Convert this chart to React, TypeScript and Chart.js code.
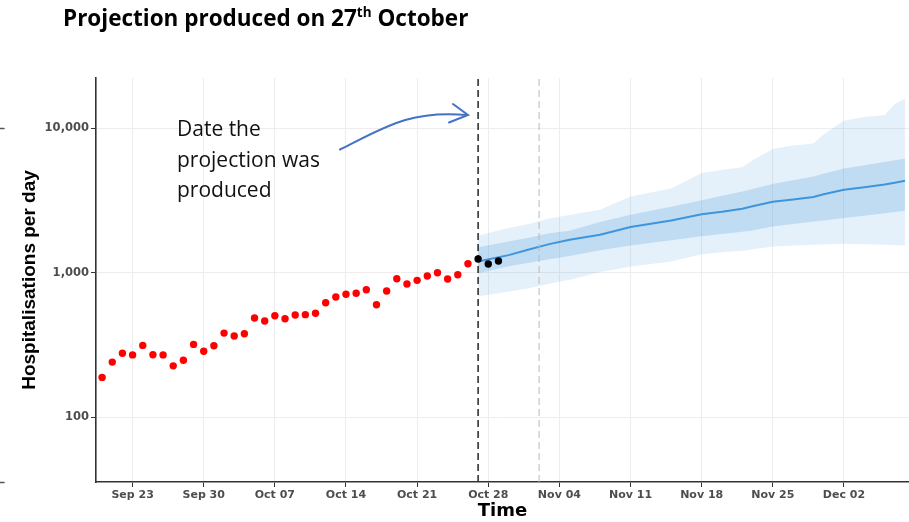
import React, { useEffect, useRef } from 'react';
import { Chart, registerables } from 'chart.js';

Chart.register(...registerables);

// ---------- data ----------
const BASE_DATE = '2020-09-23'; // day 0 of the x axis
const FIRST_OBSERVED_DATE = '2020-09-20';
const observedHosp = [
  188, 240, 276, 269, 313, 270, 269, 226, 247, 318, 285, 311, 381, 364, 377, 484, 462, 502, 479,
  508, 511, 522, 618, 677, 707, 718, 760, 599, 745, 906, 832, 883, 946, 997, 902, 966, 1151,
];
const FIRST_LATEST_DATE = '2020-10-27';
const latestHosp = [1240, 1145, 1202];

const projectionDates = [
  '2020-10-27', '2020-10-30', '2020-11-01', '2020-11-03', '2020-11-05', '2020-11-08', '2020-11-11',
  '2020-11-15', '2020-11-18', '2020-11-20', '2020-11-22', '2020-11-23', '2020-11-25', '2020-11-27',
  '2020-11-29', '2020-11-30', '2020-12-02', '2020-12-04', '2020-12-06', '2020-12-07', '2020-12-08',
];
const projMedian = [
  1192, 1320, 1443, 1573, 1685, 1824, 2066, 2292, 2530, 2633, 2762, 2873, 3088, 3198, 3334, 3480,
  3738, 3891, 4061, 4180, 4315,
];
const projInnerHigh = [
  1499, 1637, 1740, 1868, 1945, 2234, 2510, 2851, 3168, 3398, 3644, 3781, 4096, 4350, 4622, 4826,
  5251, 5525, 5825, 5975, 6130,
];
const projInnerLow = [
  990, 1107, 1167, 1236, 1301, 1425, 1541, 1671, 1781, 1845, 1914, 1957, 2083, 2167, 2255, 2295,
  2381, 2470, 2575, 2624, 2675,
];
const projOuterHigh = [
  1796, 2033, 2164, 2362, 2506, 2718, 3365, 3817, 4880, 5127, 5361, 5984, 7154, 7578, 7810, 9016,
  11234, 11917, 12262, 14665, 15956,
];
const projOuterLow = [
  682, 739, 777, 835, 893, 1008, 1102, 1194, 1337, 1380, 1413, 1447, 1513, 1536, 1555, 1563, 1580,
  1568, 1555, 1548, 1538,
];

const PRODUCED_DATE = '2020-10-27';
const SECOND_LINE_DATE = '2020-11-02';
const xTickDates = [
  '2020-09-23', '2020-09-30', '2020-10-07', '2020-10-14', '2020-10-21', '2020-10-28',
  '2020-11-04', '2020-11-11', '2020-11-18', '2020-11-25', '2020-12-02',
];
const yTickValues = [100, 1000, 10000];
const X_RANGE = [-3.6, 76.4]; // days from BASE_DATE
const Y_RANGE = [35.5, 22200];

const MONTHS = ['Jan', 'Feb', 'Mar', 'Apr', 'May', 'Jun', 'Jul', 'Aug', 'Sep', 'Oct', 'Nov', 'Dec'];
const DAY_MS = 86400000;
const baseMs = Date.parse(BASE_DATE + 'T00:00:00Z');
const dayOf = (iso: string) => Math.round((Date.parse(iso + 'T00:00:00Z') - baseMs) / DAY_MS);
const fmtDay = (d: number) => {
  const dt = new Date(baseMs + Math.round(d) * DAY_MS);
  return `${MONTHS[dt.getUTCMonth()]} ${String(dt.getUTCDate()).padStart(2, '0')}`;
};

const textPlugin = {
  id: 'textOverlay',
  afterDraw(chart: any) {
    const ctx = chart.ctx as CanvasRenderingContext2D;
    ctx.save();
    ctx.fillStyle = '#000';
    ctx.textBaseline = 'alphabetic';
    ctx.textAlign = 'left';
    // title
    let x = 63;
    const by = 26;
    ctx.font = 'bold 22.5px "Open Sans"';
    const t1 = 'Projection produced on 27';
    ctx.fillText(t1, x, by);
    x += ctx.measureText(t1).width;
    ctx.font = 'bold 13.5px "Open Sans"';
    ctx.fillText('th', x, by - 9);
    x += ctx.measureText('th').width;
    ctx.font = 'bold 22.5px "Open Sans"';
    ctx.fillText(' October', x, by);

    // annotation text
    ctx.font = '21px "Open Sans"';
    ctx.fillStyle = '#111';
    ['Date the', 'projection was', 'produced'].forEach((s, i) => {
      ctx.fillText(s, 177, 136 + i * 30.5);
    });

    // arrow
    ctx.strokeStyle = '#4472c4';
    ctx.lineWidth = 2;
    ctx.lineCap = 'round';
    ctx.beginPath();
    ctx.moveTo(340, 149.5);
    ctx.bezierCurveTo(385, 127, 410, 110, 467, 115);
    ctx.stroke();
    ctx.beginPath();
    ctx.moveTo(453, 104);
    ctx.lineTo(468, 115);
    ctx.lineTo(449, 122.5);
    ctx.stroke();

    // small slide artefacts at the left edge
    ctx.strokeStyle = '#555';
    ctx.lineWidth = 1.5;
    ctx.beginPath();
    ctx.moveTo(0, 128.5);
    ctx.lineTo(4, 128.5);
    ctx.moveTo(0, 482.5);
    ctx.lineTo(4, 482.5);
    ctx.stroke();
    ctx.restore();
  },
};

export default function App() {
  const ref = useRef<HTMLCanvasElement | null>(null);

  useEffect(() => {
    if (!ref.current) return;
    const obsStart = dayOf(FIRST_OBSERVED_DATE);
    const latestStart = dayOf(FIRST_LATEST_DATE);
    const projDays = projectionDates.map(dayOf);
    const series = (vals: number[]) => vals.map((v, i) => ({ x: projDays[i], y: v }));
    const vline = (iso: string) => [
      { x: dayOf(iso), y: Y_RANGE[0] },
      { x: dayOf(iso), y: Y_RANGE[1] },
    ];
    const band = { pointRadius: 0, borderWidth: 0, borderColor: 'transparent', showLine: true };

    const chart = new Chart(ref.current, {
      type: 'line',
      data: {
        datasets: [
          {
            data: latestHosp.map((v, i) => ({ x: latestStart + i, y: v })),
            showLine: false,
            pointRadius: 3.7,
            pointBackgroundColor: '#000',
            pointBorderWidth: 0,
          },
          {
            data: observedHosp.map((v, i) => ({ x: obsStart + i, y: v })),
            showLine: false,
            pointRadius: 3.7,
            pointBackgroundColor: '#ff0000',
            pointBorderWidth: 0,
          },
          {
            data: vline(PRODUCED_DATE),
            borderColor: '#333333',
            borderWidth: 1.6,
            borderDash: [7, 4],
            pointRadius: 0,
            fill: false,
          },
          {
            data: vline(SECOND_LINE_DATE),
            borderColor: '#b8b8b8',
            borderWidth: 1,
            borderDash: [7, 4],
            pointRadius: 0,
            fill: false,
          },
          {
            data: series(projMedian),
            borderColor: '#3f95db',
            borderWidth: 2,
            pointRadius: 0,
            fill: false,
          },
          { ...band, data: series(projInnerHigh), fill: '+1', backgroundColor: 'rgba(66,150,220,0.22)' },
          { ...band, data: series(projInnerLow), fill: false },
          { ...band, data: series(projOuterHigh), fill: '+1', backgroundColor: 'rgba(66,150,220,0.14)' },
          { ...band, data: series(projOuterLow), fill: false },
        ],
      },
      options: {
        animation: false,
        responsive: false,
        maintainAspectRatio: false,
        layout: { autoPadding: false, padding: { top: 78, left: 0, right: 0, bottom: 0 } },
        plugins: { legend: { display: false }, tooltip: { enabled: false } },
        elements: { line: { tension: 0 } },
        scales: {
          x: {
            type: 'linear',
            min: X_RANGE[0],
            max: X_RANGE[1],
            afterBuildTicks: (s: any) => {
              s.ticks = xTickDates.map((d) => ({ value: dayOf(d) }));
            },
            afterFit: (s: any) => {
              s.height = 40;
            },
            ticks: {
              callback: (v: any) => fmtDay(Number(v)),
              color: '#4d4d4d',
              font: { family: 'DejaVu Sans', weight: 'bold', size: 11 },
              padding: 2,
              maxRotation: 0,
              autoSkip: false,
            },
            grid: { color: '#ededed', lineWidth: 1, tickColor: '#333', tickLength: 5 },
            border: { display: true, color: '#333', width: 1.6 },
            title: {
              display: true,
              text: 'Time',
              color: '#000',
              font: { family: 'DejaVu Sans', weight: 'bold', size: 18 },
              padding: { top: 0, bottom: 0 },
            },
          },
          y: {
            type: 'logarithmic',
            min: Y_RANGE[0],
            max: Y_RANGE[1],
            afterBuildTicks: (s: any) => {
              s.ticks = yTickValues.map((v) => ({ value: v }));
            },
            afterFit: (s: any) => {
              s.width = 96;
            },
            ticks: {
              callback: (v: any) => Number(v).toLocaleString('en-US'),
              color: '#4d4d4d',
              font: { family: 'DejaVu Sans', weight: 'bold', size: 11.5 },
              padding: 2,
              autoSkip: false,
            },
            grid: { color: '#ededed', lineWidth: 1, tickColor: '#333', tickLength: 5 },
            border: { display: true, color: '#333', width: 1.6 },
            title: {
              display: true,
              text: 'Hospitalisations per day',
              color: '#000',
              font: { family: 'Liberation Sans', weight: 'bold', size: 19 },
              padding: { top: 18.6, bottom: 0 },
            },
          },
        },
      } as any,
      plugins: [textPlugin],
    });
    return () => chart.destroy();
  }, []);

  return (
    <div style={{ position: 'fixed', left: 0, top: 0, width: 909, height: 522, background: '#fff' }}>
      <canvas ref={ref} width={909} height={522} style={{ display: 'block' }} />
    </div>
  );
}
